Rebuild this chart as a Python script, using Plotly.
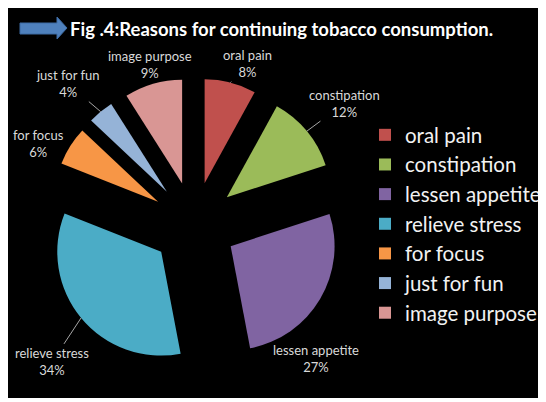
import math
import plotly.graph_objects as go

labels = ["oral pain", "constipation", "lessen appetite", "relieve stress",
          "for focus", "just for fun", "image purpose"]
values = [8, 12, 27, 34, 6, 4, 9]
colors = ["#C0504D", "#9BBB59", "#8064A2", "#4BACC6", "#F79646", "#95B3D7", "#D99694"]

# label placement (pixel offsets of each data label from its slice's outer mid point)
label_dx = [17, 38, -4, -29, -32, -33, -3]
label_dy = [-19, -28, 59, 44, -3, -28, -19]
leader = [True, True, False, True, False, True, False]

W, H = 546, 390
OFF = 8  # page margin of the browser body
PULL = 0.41
DOM_X = (47.5, 340.5)   # pie domain in screen pixels
DOM_Y = (78.0, 371.0)


def px(x):
    return (x - OFF) / W


def py(y):
    return 1 - (y - OFF) / H


fig = go.Figure()
fig.add_trace(go.Pie(
    labels=labels, values=values, sort=False, direction="clockwise", rotation=0,
    marker=dict(colors=colors, line=dict(width=0)),
    pull=[PULL] * len(values),
    textinfo="none", hoverinfo="label+percent",
    domain=dict(x=[px(DOM_X[0]), px(DOM_X[1])], y=[py(DOM_Y[1]), py(DOM_Y[0])]),
    showlegend=True,
))

# data labels anchored at each slice's outer mid-arc point (derived from values)
cx = (DOM_X[0] + DOM_X[1]) / 2
cy = (DOM_Y[0] + DOM_Y[1]) / 2
R = min(DOM_X[1] - DOM_X[0], DOM_Y[1] - DOM_Y[0]) / 2
total = sum(values)
cum = 0
for i, v in enumerate(values):
    mid = (cum + v / 2) / total * 2 * math.pi
    cum += v
    tx = cx + R * math.sin(mid)
    ty = cy - R * math.cos(mid)
    fig.add_annotation(
        text=f"{labels[i]}<br>{round(100 * v / total)}%",
        xref="paper", yref="paper", x=px(tx), y=py(ty),
        ax=label_dx[i], ay=label_dy[i], axref="pixel", ayref="pixel",
        showarrow=True, arrowhead=0, arrowwidth=1, standoff=0,
        arrowcolor="#A6A6A6" if leader[i] else "rgba(0,0,0,0)",
        font=dict(family="Lato", size=13, color="#D9D9D9"),
    )

# title arrow
pts = [(20, 23), (57, 23), (57, 17), (67, 28), (57, 39), (57, 34), (20, 34)]
path = "M " + " L ".join(f"{px(x)},{py(y)}" for x, y in pts) + " Z"
fig.add_shape(type="path", xref="paper", yref="paper", path=path,
              fillcolor="#4F81BD", line=dict(color="#3D6BA3", width=1))

fig.add_annotation(text="<b>Fig .4:Reasons for continuing tobacco consumption.</b>",
                   xref="paper", yref="paper", x=px(68), y=py(29), xanchor="left", yanchor="middle",
                   showarrow=False, font=dict(family="Lato", size=18.5, color="white"))

fig.update_layout(
    width=W, height=H, margin=dict(l=0, r=0, t=0, b=0, autoexpand=False),
    paper_bgcolor="black", plot_bgcolor="black",
    legend=dict(x=px(365), xanchor="left", y=py(115), yanchor="top",
                font=dict(family="Lato", size=20.5, color="#F2F2F2"),
                bgcolor="rgba(0,0,0,0)"),
)
fig.write_html("out.html")
